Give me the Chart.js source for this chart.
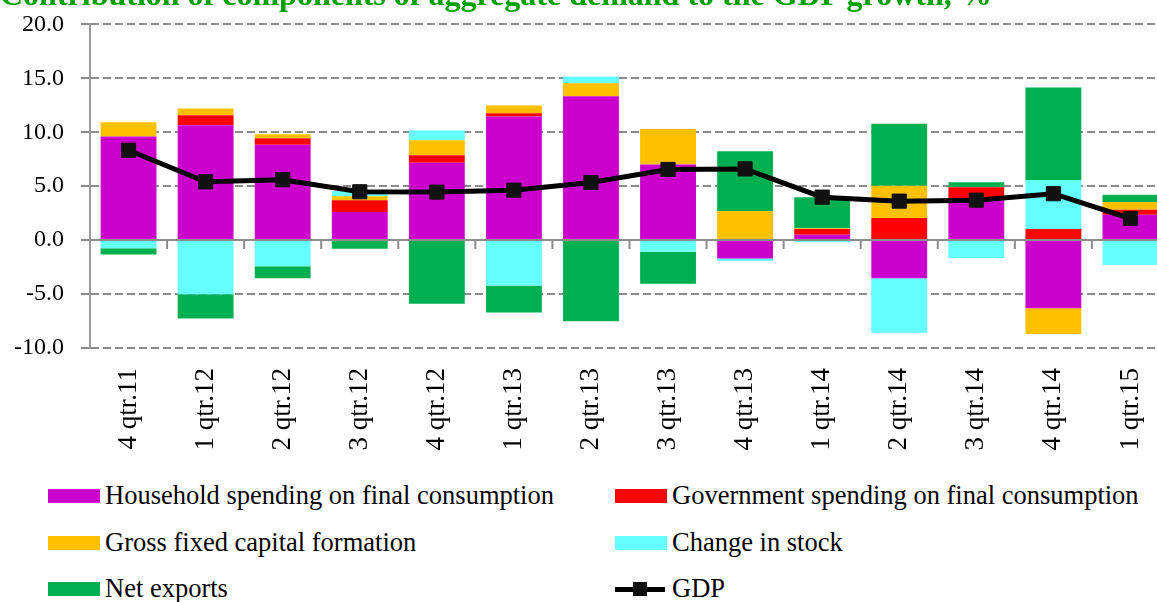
<!DOCTYPE html>
<html>
<head>
<meta charset="utf-8">
<script src="https://cdn.jsdelivr.net/npm/chart.js@4"></script>
<style>
  body { margin: 0; background: #fff; }
  #wrap { position: relative; width: 1157px; height: 602px; overflow: hidden; font-family: "Liberation Serif", "Times New Roman", serif; }
  #title { position: absolute; left: 0; top: -22px; line-height: 32px; font-size: 32px; font-weight: bold; color: #00a000; white-space: nowrap; }
  .lg { position: absolute; font-size: 26.5px; line-height: 26px; color: #000; white-space: nowrap; }
  .sw { position: absolute; width: 52px; height: 14px; }
</style>
</head>
<body>
<div id="wrap">
  <canvas id="myChart" width="1180" height="470" style="position:absolute;left:0;top:-7.4px;"></canvas>
  <div id="title">Contribution of components of aggregate demand to the GDP growth, %</div>
  <div id="legend"></div>
</div>
<script>
const quarters = ['4 qtr.11', '1 qtr.12', '2 qtr.12', '3 qtr.12', '4 qtr.12', '1 qtr.13', '2 qtr.13',
                  '3 qtr.13', '4 qtr.13', '1 qtr.14', '2 qtr.14', '3 qtr.14', '4 qtr.14', '1 qtr.15'];
const household = [9.6, 10.65, 8.83, 2.6, 7.16, 11.45, 13.33, 7.0, -1.72, 0.49, -3.55, 3.7, -6.32, 2.35];
const government = [0, 0.92, 0.62, 1.1, 0.71, 0.31, 0, 0, 0, 0.53, 2.04, 1.2, 1.02, 0.46];
const capital = [1.33, 0.63, 0.37, 0.37, 1.39, 0.71, 1.21, 3.31, 2.69, 0.05, 2.99, 0, -2.38, 0.71];
const stock = [-0.77, -5.03, -2.43, 0.45, 0.9, -4.22, 0.62, -1.08, -0.22, -0.2, -5.05, -1.67, 4.54, -2.31];
const netExports = [-0.56, -2.25, -1.12, -0.8, -5.9, -2.5, -7.53, -2.96, 5.55, 2.91, 5.75, 0.47, 8.58, 0.68];
const gdp = [8.33, 5.4, 5.6, 4.48, 4.45, 4.63, 5.34, 6.55, 6.6, 3.98, 3.61, 3.7, 4.3, 2.0];
const yTicks = [-10, -5, 0, 5, 10, 15, 20];

const serif = '"Liberation Serif", "Times New Roman", serif';

// zero line and little tick marks between quarters
const zeroAxis = {
  id: 'zeroAxis',
  afterDatasetsDraw(chart) {
    const ctx = chart.ctx;
    const x = chart.scales.x, y = chart.scales.y;
    const y0 = y.getPixelForValue(0);
    const step = x.getPixelForValue(1) - x.getPixelForValue(0);
    ctx.save();
    ctx.strokeStyle = '#8c8c8c';
    ctx.lineWidth = 2;
    ctx.beginPath();
    ctx.moveTo(chart.chartArea.left, y0);
    ctx.lineTo(chart.chartArea.right, y0);
    for (let i = 1; i <= quarters.length; i++) {
      const px = x.getPixelForValue(i) - step / 2;
      ctx.moveTo(px, y0);
      ctx.lineTo(px, y0 + 9);
    }
    ctx.stroke();
    ctx.restore();
  }
};

function barSet(label, data, color) {
  return {
    type: 'bar',
    label: label,
    data: data,
    backgroundColor: color,
    borderWidth: 0,
    barPercentage: 0.725,
    categoryPercentage: 1,
    order: 1
  };
}

const datasets = [
  barSet('Household spending on final consumption', household, '#cc00cc'),
  barSet('Government spending on final consumption', government, '#ff0000'),
  barSet('Gross fixed capital formation', capital, '#ffc000'),
  barSet('Change in stock', stock, '#66ffff'),
  barSet('Net exports', netExports, '#00b050'),
  {
    type: 'line',
    label: 'GDP',
    data: gdp,
    stack: 'gdp',
    borderColor: '#000',
    borderWidth: 5,
    pointStyle: 'rect',
    pointRadius: 10,
    pointBackgroundColor: '#111',
    pointBorderColor: '#111',
    pointBorderWidth: 1,
    tension: 0,
    order: 0
  }
];

new Chart(document.getElementById('myChart').getContext('2d'), {
  data: { labels: quarters, datasets: datasets },
  options: {
    responsive: false,
    animation: false,
    layout: { padding: { top: 14.6, right: 9, left: 0, bottom: 0 } },
    plugins: { legend: { display: false }, tooltip: { enabled: false } },
    scales: {
      x: {
        stacked: true,
        grid: { display: false },
        border: { display: false },
        ticks: {
          color: '#000',
          font: { family: serif, size: 27 },
          minRotation: 90,
          maxRotation: 90,
          padding: 12
        },
        afterFit: s => { s.height = 115.1; }
      },
      y: {
        stacked: true,
        min: -10,
        max: 20,
        afterBuildTicks: s => { s.ticks = yTicks.map(v => ({ value: v })); },
        afterFit: s => { s.width = 90; },
        grid: {
          color: c => c.tick && c.tick.value === 0 ? 'rgba(0,0,0,0)' : '#8c8c8c',
          lineWidth: 2,
          tickColor: '#8c8c8c',
          tickLength: 9
        },
        border: { display: true, color: '#9a9a9a', width: 2, dash: [8, 4] },
        ticks: {
          color: '#000',
          font: { family: serif, size: 24 },
          padding: 17,
          callback: v => v.toFixed(1)
        }
      }
    }
  },
  plugins: [zeroAxis]
});

// legend in two columns under the chart
const legendPos = [[48, 496], [615, 496], [48, 543], [615, 543], [48, 589], [615, 589]];
const legendEl = document.getElementById('legend');
datasets.forEach((d, i) => {
  const [lx, ly] = legendPos[i];
  if (d.type === 'bar') {
    const sw = document.createElement('div');
    sw.className = 'sw';
    sw.style.left = lx + 'px';
    sw.style.top = (ly - 7) + 'px';
    sw.style.background = d.backgroundColor;
    legendEl.appendChild(sw);
  } else {
    const ln = document.createElement('div');
    ln.style.cssText = 'position:absolute;left:' + lx + 'px;top:' + (ly - 2) + 'px;width:50px;height:5px;background:#000;';
    const sq = document.createElement('div');
    sq.style.cssText = 'position:absolute;left:' + (lx + 18) + 'px;top:' + (ly - 7) + 'px;width:14px;height:14px;background:#111;';
    legendEl.appendChild(ln);
    legendEl.appendChild(sq);
  }
  const tx = document.createElement('div');
  tx.className = 'lg';
  tx.style.left = (lx + 57) + 'px';
  tx.style.top = (ly - 14) + 'px';
  tx.textContent = d.label;
  legendEl.appendChild(tx);
});
</script>
</body>
</html>
